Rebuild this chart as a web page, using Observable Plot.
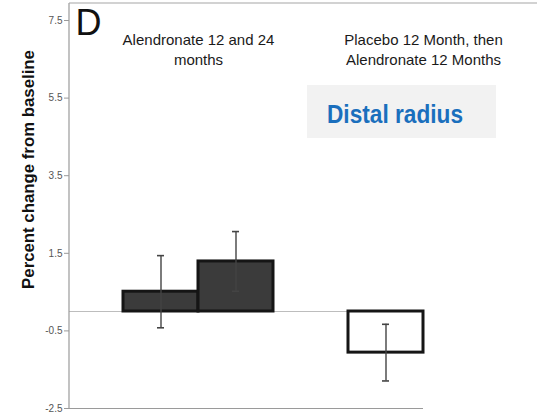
<!DOCTYPE html>
<html><head><meta charset="utf-8">
<script src="https://cdn.jsdelivr.net/npm/d3@7"></script>
<script src="https://cdn.jsdelivr.net/npm/@observablehq/plot@0.6"></script>
<style>body{margin:0;background:#fff}#chart{width:537px;height:414px}</style>
</head><body><div id="chart"></div>
<script>
// ---- data ----
const slots = ["Alendronate 12 months", "Alendronate 24 months", "", "Placebo 12 months, then Alendronate 12 months"];
const treatments = ["Alendronate 12 months", "Alendronate 24 months", "Placebo 12 months, then Alendronate 12 months"];
const changes = [0.51, 1.29, -1.06];
const errors = [0.93, 0.77, 0.73];
const barFills = ["#3b3b3b", "#3b3b3b", "#ffffff"];
const yTicks = [7.5, 5.5, 3.5, 1.5, -0.5, -2.5];
const groupLabel1 = "Alendronate 12 and 24\nmonths";
const groupLabel2 = "Placebo 12 Month, then\nAlendronate 12 Months";
const panelLetter = "D";
const siteLabel = "Distal radius";
const yLabel = "Percent change from baseline";

const rows = treatments.map((t, i) => ({t, v: changes[i], e: errors[i], f: barFills[i]}));

const W = 537, H = 414, ML = 69, MR = 114, MT = 20, MB = 6;
const padOuter = 0.36;
const step = (W - ML - MR) / (slots.length + 2 * padOuter);
const capInset = (step - 7) / 2;
const font = "'Liberation Sans', Arial, Helvetica, sans-serif";

const plot = Plot.plot({
  width: W, height: H,
  marginLeft: ML, marginRight: MR, marginTop: MT, marginBottom: MB,
  style: {fontFamily: font, background: "#fff", overflow: "visible"},
  x: {type: "band", domain: slots, paddingInner: 0, paddingOuter: padOuter, align: 1, axis: null, round: false},
  y: {domain: [-2.5, 7.5], axis: null},
  color: {type: "identity"},
  marks: [
    Plot.ruleY([0], {stroke: "#bdbdbd", strokeWidth: 1}),
    Plot.ruleY([-2.5], {stroke: "#9a9a9a", strokeWidth: 1.2}),
    Plot.barY(rows, {x: "t", y: "v", fill: "f", stroke: "#151515", strokeWidth: 3}),
    Plot.ruleX(rows, {x: "t", y1: d => d.v - d.e, y2: d => d.v + d.e, stroke: "#444", strokeWidth: 1.4}),
    Plot.tickY(rows, {x: "t", y: d => d.v + d.e, stroke: "#444", strokeWidth: 1.6, insetLeft: capInset, insetRight: capInset}),
    Plot.tickY(rows, {x: "t", y: d => d.v - d.e, stroke: "#444", strokeWidth: 1.6, insetLeft: capInset, insetRight: capInset}),
    Plot.axisY({ticks: yTicks, tickFormat: d => d.toFixed(1), tickSize: 5, tickPadding: 2, fontSize: 10, fill: "#555", stroke: "#999", label: null}),
    Plot.text([groupLabel1], {x: [slots[1]], frameAnchor: "top", lineAnchor: "top", dx: -step / 2, dy: 11, fontSize: 15, lineHeight: 1.3, fill: "#1a1a1a"}),
    Plot.text([groupLabel2], {x: [slots[3]], frameAnchor: "top", lineAnchor: "top", dx: step / 2, dy: 11, fontSize: 15, lineHeight: 1.3, fill: "#1a1a1a"}),
    Plot.text([panelLetter], {frameAnchor: "top-left", lineAnchor: "top", textAnchor: "start", dx: 6, dy: -11, fontSize: 36, fill: "#111"}),
    Plot.text([yLabel], {frameAnchor: "left", textAnchor: "middle", rotate: -90, dx: -41, dy: -45, fontSize: 16.8, fontWeight: "bold", fill: "#111"})
  ]
});

const svg = d3.select(plot);
// panel frame: left and top edges
svg.append("line").attr("x1", ML).attr("x2", ML).attr("y1", 3).attr("y2", H - MB).attr("stroke", "#9a9a9a").attr("stroke-width", 1.2);
svg.append("line").attr("x1", ML).attr("x2", W).attr("y1", 3).attr("y2", 3).attr("stroke", "#a5a5a5").attr("stroke-width", 1.2);
// site label box
const g = svg.append("g");
g.append("rect").attr("x", 307).attr("y", 85).attr("width", 189).attr("height", 53).attr("fill", "#f2f2f2");
g.append("text").attr("x", 327).attr("y", 122.5).text(siteLabel)
  .attr("text-anchor", "start")
  .attr("textLength", 136).attr("lengthAdjust", "spacingAndGlyphs")
  .attr("font-family", "'Liberation Sans', Arial, sans-serif")
  .attr("font-weight", "bold").attr("font-size", 26).attr("fill", "#1a6fbd");

document.getElementById("chart").appendChild(plot);
</script>
</body></html>
